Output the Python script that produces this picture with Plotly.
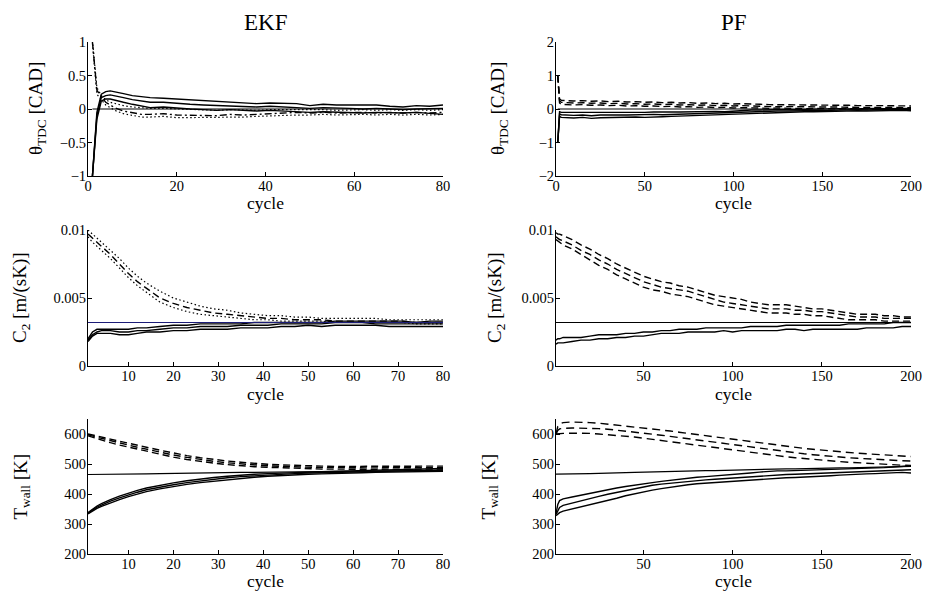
import plotly.graph_objects as go

# ---------------- data ----------------
EKF_X = [1, 2, 3, 4, 5, 6, 8, 10, 12, 14, 17, 20, 23, 26, 29, 32, 35, 38, 41, 44,
         47, 50, 53, 56, 59, 62, 65, 68, 71, 74, 77, 80]
PF_X = [1, 2, 3] + list(range(5, 201, 5))

# EKF theta_TDC [CAD]
ekf_theta_true = [0.0] * len(EKF_X)
ekf_theta_lo_1 = [-1, -0.05, 0.22, 0.26, 0.27, 0.26, 0.23, 0.2, 0.18, 0.17, 0.16, 0.15, 0.13, 0.13, 0.11, 0.1,
                  0.09, 0.08, 0.09, 0.08, 0.08, 0.05, 0.07, 0.06, 0.06, 0.05, 0.06, 0.04, 0.03, 0.05, 0.04, 0.06]
ekf_theta_lo_2 = [-1, -0.1, 0.17, 0.2, 0.21, 0.2, 0.17, 0.14, 0.12, 0.1, 0.1, 0.08, 0.07, 0.06, 0.05, 0.05,
                  0.04, 0.03, 0.04, 0.03, 0.02, 0.01, 0.02, 0.02, 0.01, 0.0, 0.01, 0.0, -0.01, 0.0, 0.0, 0.01]
ekf_theta_lo_3 = [-1, -0.15, 0.12, 0.15, 0.15, 0.13, 0.1, 0.07, 0.05, 0.02, 0.03, 0.01, 0.0, -0.01, -0.02, -0.01,
                  -0.02, -0.03, -0.02, -0.03, -0.04, -0.05, -0.04, -0.05, -0.05, -0.06, -0.05, -0.06, -0.06, -0.05, -0.06, -0.08]
ekf_theta_hi_mean = [1.0, 0.28, 0.18, 0.1, 0.06, 0.02, -0.03, -0.06, -0.08, -0.08, -0.07, -0.09, -0.09, -0.1, -0.1, -0.08,
                     -0.09, -0.08, -0.07, -0.06, -0.05, -0.06, -0.05, -0.06, -0.05, -0.05, -0.06, -0.05, -0.06, -0.05, -0.06, -0.05]
ekf_theta_hi_up = [1.02, 0.32, 0.2, 0.14, 0.1, 0.08, 0.05, 0.03, 0.02, 0.01, 0.01, 0.0, -0.01, -0.02, -0.02, -0.01,
                   -0.02, -0.02, -0.01, -0.01, 0.0, -0.01, -0.01, -0.02, -0.01, -0.01, -0.02, -0.01, -0.02, -0.01, -0.02, -0.01]
ekf_theta_hi_dn = [0.98, 0.22, 0.14, 0.06, 0.02, -0.02, -0.07, -0.1, -0.12, -0.12, -0.11, -0.13, -0.13, -0.13, -0.13, -0.12,
                   -0.12, -0.11, -0.1, -0.09, -0.09, -0.09, -0.08, -0.09, -0.08, -0.08, -0.09, -0.08, -0.09, -0.08, -0.09, -0.08]

# PF theta_TDC [CAD]
pf_theta_true = [0.0] * len(PF_X)
pf_theta_lo_1 = [-1, -0.08, -0.1, -0.1, -0.11, -0.1, -0.12, -0.1, -0.11, -0.1, -0.11, -0.1, -0.1, -0.09, -0.1, -0.09,
                 -0.09, -0.08, -0.09, -0.08, -0.07, -0.08, -0.06, -0.05, -0.03, -0.03, -0.02, -0.02, -0.01, -0.02, -0.01,
                 0.0, -0.01, 0.0, 0.01, 0.0, 0.01, 0.0, 0.02, 0.01, 0.02, 0.01, 0.02]
pf_theta_lo_2 = [-1, -0.15, -0.17, -0.18, -0.19, -0.18, -0.2, -0.18, -0.19, -0.18, -0.18, -0.17, -0.18, -0.16, -0.17, -0.16,
                 -0.15, -0.15, -0.14, -0.14, -0.13, -0.12, -0.11, -0.1, -0.08, -0.07, -0.07, -0.06, -0.06, -0.05, -0.05,
                 -0.04, -0.04, -0.04, -0.03, -0.03, -0.02, -0.03, -0.02, -0.02, -0.01, -0.02, -0.01]
pf_theta_lo_3 = [-1, -0.22, -0.25, -0.26, -0.27, -0.25, -0.28, -0.26, -0.25, -0.26, -0.25, -0.24, -0.25, -0.23, -0.23, -0.22,
                 -0.21, -0.21, -0.2, -0.19, -0.18, -0.17, -0.15, -0.14, -0.12, -0.11, -0.1, -0.1, -0.09, -0.09, -0.08,
                 -0.08, -0.07, -0.07, -0.06, -0.06, -0.05, -0.06, -0.05, -0.04, -0.05, -0.04, -0.05]
pf_theta_hi_1 = [1.0, 0.3, 0.26, 0.25, 0.24, 0.25, 0.23, 0.24, 0.22, 0.23, 0.21, 0.22, 0.2, 0.21, 0.19, 0.2,
                 0.18, 0.19, 0.17, 0.18, 0.16, 0.17, 0.15, 0.16, 0.14, 0.14, 0.13, 0.13, 0.12, 0.13, 0.12,
                 0.12, 0.11, 0.12, 0.11, 0.11, 0.1, 0.11, 0.1, 0.1, 0.09, 0.1, 0.09]
pf_theta_hi_2 = [1.0, 0.24, 0.2, 0.19, 0.18, 0.19, 0.17, 0.18, 0.16, 0.17, 0.15, 0.16, 0.14, 0.15, 0.13, 0.14,
                 0.12, 0.13, 0.11, 0.12, 0.1, 0.11, 0.09, 0.1, 0.08, 0.08, 0.07, 0.08, 0.07, 0.07, 0.06,
                 0.07, 0.06, 0.06, 0.05, 0.06, 0.05, 0.05, 0.05, 0.05, 0.04, 0.05, 0.04]
pf_theta_hi_3 = [1.0, 0.18, 0.14, 0.13, 0.12, 0.13, 0.11, 0.12, 0.1, 0.11, 0.09, 0.1, 0.08, 0.09, 0.07, 0.08,
                 0.06, 0.07, 0.05, 0.06, 0.04, 0.05, 0.03, 0.04, 0.03, 0.03, 0.02, 0.03, 0.02, 0.02, 0.01,
                 0.02, 0.01, 0.01, 0.0, 0.01, 0.0, 0.01, 0.0, 0.0, -0.01, 0.0, -0.01]

# EKF C2 [m/(sK)]
ekf_c2_true = [0.0032] * len(EKF_X)
ekf_c2_lo_1 = [0.0020, 0.0025, 0.0027, 0.0027, 0.0027, 0.0027, 0.0027, 0.0027, 0.0028, 0.0028, 0.0029, 0.0030, 0.0030,
               0.0031, 0.0031, 0.0031, 0.0031, 0.0032, 0.0032, 0.0032, 0.0032, 0.0032, 0.0032, 0.0033, 0.0033, 0.0033,
               0.0033, 0.0033, 0.0033, 0.0032, 0.0033, 0.0033]
ekf_c2_lo_2 = [0.0019, 0.0023, 0.0025, 0.0026, 0.0026, 0.0026, 0.0025, 0.0025, 0.0026, 0.0026, 0.0027, 0.0028, 0.0028,
               0.0029, 0.0029, 0.0029, 0.0030, 0.0030, 0.0030, 0.0031, 0.0031, 0.0031, 0.0031, 0.0032, 0.0032, 0.0032,
               0.0031, 0.0031, 0.0031, 0.0031, 0.0031, 0.0031]
ekf_c2_lo_3 = [0.0018, 0.0022, 0.0024, 0.0024, 0.0024, 0.0024, 0.0023, 0.0023, 0.0024, 0.0025, 0.0025, 0.0026, 0.0026,
               0.0027, 0.0027, 0.0027, 0.0028, 0.0028, 0.0028, 0.0029, 0.0029, 0.0030, 0.0029, 0.0030, 0.0030, 0.0030,
               0.0030, 0.0029, 0.0029, 0.0029, 0.0029, 0.0029]
ekf_c2_hi_mean = [0.0097, 0.0094, 0.0091, 0.0088, 0.0085, 0.0082, 0.0075, 0.0068, 0.0062, 0.0057, 0.0050, 0.0046, 0.0043,
                  0.0041, 0.0039, 0.0038, 0.0037, 0.0036, 0.0035, 0.0035, 0.0034, 0.0034, 0.0034, 0.0033, 0.0033, 0.0033,
                  0.0033, 0.0033, 0.0033, 0.0032, 0.0032, 0.0032]
ekf_c2_hi_up = [0.0100, 0.0097, 0.0094, 0.0091, 0.0088, 0.0085, 0.0079, 0.0072, 0.0066, 0.0061, 0.0055, 0.0050, 0.0047,
                0.0044, 0.0042, 0.0041, 0.0039, 0.0038, 0.0037, 0.0037, 0.0036, 0.0036, 0.0035, 0.0035, 0.0035, 0.0035,
                0.0035, 0.0034, 0.0034, 0.0034, 0.0034, 0.0034]
ekf_c2_hi_dn = [0.0095, 0.0091, 0.0088, 0.0085, 0.0082, 0.0079, 0.0072, 0.0065, 0.0059, 0.0054, 0.0047, 0.0043, 0.0040,
                0.0038, 0.0037, 0.0036, 0.0035, 0.0034, 0.0034, 0.0033, 0.0033, 0.0033, 0.0033, 0.0032, 0.0032, 0.0032,
                0.0032, 0.0032, 0.0032, 0.0031, 0.0031, 0.0031]

# PF C2 [m/(sK)]
pf_c2_true = [0.0032] * len(PF_X)
pf_c2_lo_1 = [0.0019, 0.0020, 0.0020, 0.0021, 0.0021, 0.0021, 0.0022, 0.0023, 0.0023, 0.0023, 0.0024, 0.0024, 0.0025,
              0.0025, 0.0026, 0.0026, 0.0027, 0.0027, 0.0027, 0.0028, 0.0028, 0.0028, 0.0028, 0.0028, 0.0029, 0.0029,
              0.0029, 0.0029, 0.0030, 0.0030, 0.0030, 0.0030, 0.0030, 0.0030, 0.0030, 0.0031, 0.0031, 0.0031, 0.0031,
              0.0031, 0.0032, 0.0032, 0.0032]
pf_c2_lo_2 = [0.0016, 0.0017, 0.0017, 0.0017, 0.0018, 0.0019, 0.0019, 0.0020, 0.0020, 0.0021, 0.0021, 0.0022, 0.0022,
              0.0023, 0.0024, 0.0024, 0.0024, 0.0025, 0.0025, 0.0025, 0.0025, 0.0026, 0.0025, 0.0026, 0.0026, 0.0026,
              0.0026, 0.0026, 0.0027, 0.0027, 0.0026, 0.0027, 0.0027, 0.0027, 0.0027, 0.0027, 0.0027, 0.0028, 0.0028,
              0.0028, 0.0028, 0.0029, 0.0029]
pf_c2_hi_1 = [0.0098, 0.0097, 0.0097, 0.0096, 0.0093, 0.0089, 0.0086, 0.0082, 0.0079, 0.0075, 0.0072, 0.0069, 0.0066,
              0.0064, 0.0062, 0.0061, 0.0059, 0.0058, 0.0056, 0.0054, 0.0052, 0.0051, 0.0050, 0.0049, 0.0047, 0.0046,
              0.0045, 0.0045, 0.0045, 0.0044, 0.0043, 0.0042, 0.0042, 0.0041, 0.0040, 0.0039, 0.0038, 0.0038, 0.0038,
              0.0037, 0.0037, 0.0036, 0.0036]
pf_c2_hi_2 = [0.0095, 0.0094, 0.0093, 0.0092, 0.0089, 0.0085, 0.0082, 0.0078, 0.0075, 0.0071, 0.0068, 0.0065, 0.0062,
              0.0060, 0.0058, 0.0057, 0.0056, 0.0055, 0.0053, 0.0051, 0.0049, 0.0047, 0.0046, 0.0045, 0.0044, 0.0043,
              0.0042, 0.0042, 0.0042, 0.0041, 0.0041, 0.0040, 0.0040, 0.0039, 0.0038, 0.0037, 0.0036, 0.0036, 0.0036,
              0.0035, 0.0035, 0.0035, 0.0035]
pf_c2_hi_3 = [0.0093, 0.0092, 0.0091, 0.0089, 0.0086, 0.0082, 0.0078, 0.0074, 0.0071, 0.0067, 0.0064, 0.0061, 0.0058,
              0.0056, 0.0055, 0.0053, 0.0052, 0.0051, 0.0049, 0.0047, 0.0045, 0.0044, 0.0043, 0.0042, 0.0041, 0.0040,
              0.0039, 0.0039, 0.0039, 0.0038, 0.0038, 0.0037, 0.0037, 0.0036, 0.0035, 0.0034, 0.0034, 0.0034, 0.0034,
              0.0033, 0.0033, 0.0033, 0.0033]

# EKF T_wall [K]
ekf_tw_true = [465, 465, 465, 466, 466, 466, 466, 467, 467, 467, 468, 469, 469, 470, 471, 471, 472, 472, 473, 473,
               474, 474, 475, 475, 476, 476, 476, 477, 477, 477, 478, 478]
ekf_tw_lo_1 = [338, 350, 360, 368, 375, 381, 393, 403, 412, 420, 429, 437, 444, 450, 455, 459, 463, 466, 468, 470,
               472, 473, 475, 476, 477, 478, 479, 480, 482, 483, 484, 485]
ekf_tw_lo_2 = [336, 347, 356, 363, 370, 376, 387, 397, 406, 414, 423, 431, 438, 444, 449, 454, 458, 461, 464, 466,
               468, 470, 471, 473, 474, 475, 476, 477, 478, 479, 480, 480]
ekf_tw_lo_3 = [334, 344, 352, 359, 365, 371, 381, 391, 400, 408, 417, 425, 432, 438, 443, 448, 452, 456, 459, 462,
               464, 466, 467, 469, 470, 471, 472, 473, 474, 475, 475, 476]
ekf_tw_hi_1 = [600, 597, 594, 590, 587, 583, 576, 570, 563, 556, 546, 536, 528, 521, 515, 510, 506, 502, 499, 497,
               495, 494, 493, 492, 492, 492, 492, 492, 493, 494, 493, 493]
ekf_tw_hi_2 = [597, 593, 589, 585, 581, 577, 570, 563, 556, 549, 539, 530, 522, 515, 509, 504, 500, 497, 494, 492,
               490, 489, 488, 488, 487, 487, 487, 488, 488, 489, 488, 488]
ekf_tw_hi_3 = [594, 589, 584, 579, 575, 571, 563, 556, 549, 542, 532, 523, 515, 508, 503, 498, 494, 491, 489, 487,
               485, 484, 483, 483, 482, 482, 482, 483, 483, 484, 483, 483]

# PF T_wall [K]
pf_tw_true = [466, 466, 466, 466, 467, 467, 468, 469, 469, 470, 471, 472, 473, 474, 474, 475, 476, 477, 477, 478,
              478, 479, 480, 480, 481, 482, 482, 483, 484, 484, 485, 485, 486, 486, 487, 487, 488, 488, 489, 490,
              490, 491, 492]
pf_tw_lo_1 = [335, 365, 378, 384, 390, 396, 402, 410, 415, 420, 425, 430, 434, 438, 442, 446, 450, 454, 456, 458,
              460, 462, 464, 467, 470, 473, 476, 477, 477, 478, 478, 478, 479, 480, 481, 482, 483, 484, 486, 488,
              490, 492, 494]
pf_tw_lo_2 = [332, 345, 355, 362, 370, 378, 385, 392, 399, 405, 412, 418, 425, 429, 433, 436, 440, 443, 445, 447,
              449, 451, 453, 455, 458, 461, 463, 464, 465, 466, 467, 469, 470, 471, 472, 474, 475, 476, 477, 478,
              479, 480, 481]
pf_tw_lo_3 = [328, 333, 338, 343, 350, 357, 364, 370, 378, 386, 394, 401, 408, 413, 418, 423, 428, 431, 434, 436,
              438, 440, 442, 444, 447, 450, 452, 453, 454, 455, 456, 458, 459, 461, 463, 465, 466, 467, 468, 469,
              471, 472, 470]
pf_tw_hi_1 = [600, 625, 633, 638, 640, 640, 638, 636, 633, 630, 627, 624, 621, 618, 614, 610, 606, 602, 598, 594,
              590, 586, 582, 578, 574, 570, 566, 562, 558, 555, 552, 549, 546, 543, 540, 538, 536, 534, 532, 530,
              528, 527, 525]
pf_tw_hi_2 = [600, 612, 617, 619, 620, 620, 619, 618, 616, 613, 610, 607, 604, 600, 596, 592, 588, 584, 580, 576,
              572, 568, 564, 560, 556, 552, 548, 544, 540, 537, 534, 531, 528, 526, 523, 521, 519, 517, 515, 514,
              512, 511, 510]
pf_tw_hi_3 = [600, 600, 601, 602, 603, 603, 602, 600, 598, 596, 593, 590, 586, 582, 578, 574, 570, 566, 562, 558,
              555, 551, 548, 544, 540, 536, 532, 528, 524, 521, 518, 516, 514, 511, 508, 506, 504, 502, 500, 498,
              497, 496, 495]

# tick labels
THETA_EKF_TICKS = [-1, -0.5, 0, 0.5, 1]
THETA_PF_TICKS = [-2, -1, 0, 1, 2]
C2_TICKS = [0, 0.005, 0.01]
C2_TICKTEXT = ["0", "0.005", "0.01"]
TW_TICKS = [200, 300, 400, 500, 600]
EKF_XTICKS_TOP = [0, 20, 40, 60, 80]
PF_XTICKS_TOP = [0, 50, 100, 150, 200]
EKF_XTICKS = [10, 20, 30, 40, 50, 60, 70, 80]
PF_XTICKS = [50, 100, 150, 200]

# ---------------- figure ----------------
W, H = 933, 596
OFF = 8  # page body margin in the screenshot
FONT = "Liberation Serif, Times New Roman, Times, serif"
BLACK = "#000000"
NAVY = "#1c1c78"

DASH = "7px,4px"
DOT = "1.5px,2.5px"
DASHDOT = "7px,3px,2px,3px"

fig = go.Figure()


def add(xs, ys, k, dash="solid", width=1.4, color=BLACK):
    suffix = "" if k == 1 else str(k)
    fig.add_trace(go.Scatter(x=xs, y=ys, mode="lines", xaxis="x" + suffix, yaxis="y" + suffix,
                             line=dict(color=color, width=width, dash=dash), showlegend=False,
                             hoverinfo="skip"))


# panel 1: EKF theta
add(EKF_X, ekf_theta_true, 1, width=1.2)
for s in (ekf_theta_lo_1, ekf_theta_lo_2, ekf_theta_lo_3):
    add(EKF_X, s, 1)
add(EKF_X, ekf_theta_hi_up, 1, dash=DOT, width=1.2)
add(EKF_X, ekf_theta_hi_dn, 1, dash=DOT, width=1.2)
add(EKF_X, ekf_theta_hi_mean, 1, dash=DASHDOT)

# panel 2: PF theta
add(PF_X, pf_theta_true, 2, width=1.2)
for s in (pf_theta_lo_1, pf_theta_lo_2, pf_theta_lo_3):
    add(PF_X, s, 2)
for s in (pf_theta_hi_1, pf_theta_hi_2, pf_theta_hi_3):
    add(PF_X, s, 2, dash=DASH)

# panel 3: EKF C2
for s in (ekf_c2_lo_1, ekf_c2_lo_2, ekf_c2_lo_3):
    add(EKF_X, s, 3)
add(EKF_X, ekf_c2_hi_up, 3, dash=DOT, width=1.2)
add(EKF_X, ekf_c2_hi_dn, 3, dash=DOT, width=1.2)
add(EKF_X, ekf_c2_hi_mean, 3, dash=DASH)
add(EKF_X, ekf_c2_true, 3, width=1.2, color=NAVY)

# panel 4: PF C2
add(PF_X, pf_c2_true, 4, width=1.2)
for s in (pf_c2_lo_1, pf_c2_lo_2):
    add(PF_X, s, 4)
for s in (pf_c2_hi_1, pf_c2_hi_2, pf_c2_hi_3):
    add(PF_X, s, 4, dash=DASH)

# panel 5: EKF T_wall
add(EKF_X, ekf_tw_true, 5, width=1.2)
for s in (ekf_tw_lo_1, ekf_tw_lo_2, ekf_tw_lo_3):
    add(EKF_X, s, 5)
for s in (ekf_tw_hi_1, ekf_tw_hi_2, ekf_tw_hi_3):
    add(EKF_X, s, 5, dash=DASH)

# panel 6: PF T_wall
add(PF_X, pf_tw_true, 6, width=1.2)
for s in (pf_tw_lo_1, pf_tw_lo_2, pf_tw_lo_3):
    add(PF_X, s, 6)
for s in (pf_tw_hi_1, pf_tw_hi_2, pf_tw_hi_3):
    add(PF_X, s, 6, dash="8px,5px")

# screen-pixel layout of the plot areas (as seen in the reference)
COLS = [(88, 443), (556, 911)]
ROWS = [(42, 176), (230, 366), (419, 554)]


def fx(p):
    return (p - OFF) / W


def fy(p):
    return 1 - (p - OFF) / H


def xdom(c):
    return [fx(COLS[c][0]), fx(COLS[c][1])]


def ydom(r):
    return [fy(ROWS[r][1]), fy(ROWS[r][0])]


tickfont = dict(family=FONT, size=14.5, color=BLACK)
common = dict(showline=True, linecolor=BLACK, linewidth=1, mirror=False, ticks="inside",
              ticklen=4, tickwidth=1, tickcolor=BLACK, showgrid=False, zeroline=False,
              tickfont=tickfont, automargin=False)

specs = [
    # (row, col, xrange, xticks, yrange, yticks, yticktext)
    (0, 0, [0, 80], EKF_XTICKS_TOP, [-1, 1], THETA_EKF_TICKS, None),
    (0, 1, [0, 200], PF_XTICKS_TOP, [-2, 2], THETA_PF_TICKS, None),
    (1, 0, [1, 80], EKF_XTICKS, [0, 0.01], C2_TICKS, C2_TICKTEXT),
    (1, 1, [1, 200], PF_XTICKS, [0, 0.01], C2_TICKS, C2_TICKTEXT),
    (2, 0, [1, 80], EKF_XTICKS, [200, 650], TW_TICKS, None),
    (2, 1, [1, 200], PF_XTICKS, [200, 650], TW_TICKS, None),
]

layout = dict(width=W, height=H, margin=dict(l=0, r=0, t=0, b=0),
              paper_bgcolor="white", plot_bgcolor="white", showlegend=False)

for i, (r, c, xr, xt, yr, yt, ytt) in enumerate(specs):
    k = i + 1
    sfx = "" if k == 1 else str(k)
    xa = dict(common, domain=xdom(c), range=xr, tickvals=xt, anchor="y" + sfx, ticklabelstandoff=-3)
    ya = dict(common, domain=ydom(r), range=yr, tickvals=yt, anchor="x" + sfx, ticklabelstandoff=-2)
    if ytt is not None:
        ya["ticktext"] = ytt
    layout["xaxis" + sfx] = xa
    layout["yaxis" + sfx] = ya

fig.update_layout(**layout)

ann = []
# column titles
for text, xc in (("EKF", 265.5), ("PF", 733.5)):
    ann.append(dict(text=text, x=fx(xc), y=fy(22), xref="paper", yref="paper", showarrow=False,
                    xanchor="center", yanchor="middle", font=dict(family=FONT, size=23, color=BLACK)))

# x titles "cycle"
cycle_y = [203, 393.5, 581]
for r in range(3):
    for c in range(2):
        ann.append(dict(text="cycle", x=fx((COLS[c][0] + COLS[c][1]) / 2), y=fy(cycle_y[r]),
                        xref="paper", yref="paper", showarrow=False, xanchor="center", yanchor="middle",
                        font=dict(family=FONT, size=17.5, color=BLACK)))

# y titles
ylabels = [
    ("θ<sub>TDC</sub> [CAD]", 37, 499, 0),
    ("C<sub>2</sub> [m/(sK)]", 21, 496, 1),
    ("T<sub>wall</sub> [K]", 21, 489, 2),
]
for text, xl, xr_, r in ylabels:
    yc = fy((ROWS[r][0] + ROWS[r][1]) / 2)
    for xp in (xl, xr_):
        ann.append(dict(text=text, x=fx(xp), y=yc, xref="paper", yref="paper", showarrow=False,
                        textangle=-90, xanchor="center", yanchor="middle",
                        font=dict(family=FONT, size=19, color=BLACK)))

fig.update_layout(annotations=ann)

fig.write_html("out.html")
